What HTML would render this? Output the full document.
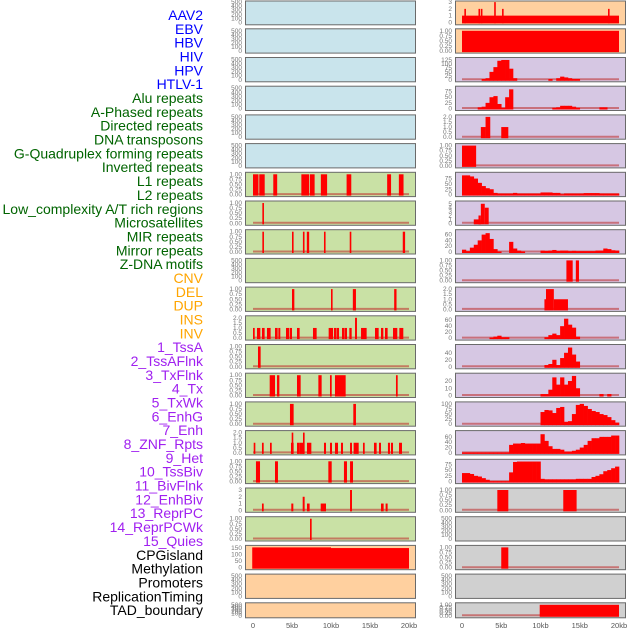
<!DOCTYPE html>
<html><head><meta charset="utf-8"><style>
html,body{margin:0;padding:0;background:#fff;}
svg{display:block;font-family:"Liberation Sans",sans-serif;}
</style></head><body>
<svg id="chart" width="630" height="630" viewBox="0 0 630 630" xmlns="http://www.w3.org/2000/svg"></svg>
<script>
const labels = ["AAV2","EBV","HBV","HIV","HPV","HTLV-1","Alu repeats","A-Phased repeats","Directed repeats","DNA transposons","G-Quadruplex forming repeats","Inverted repeats","L1 repeats","L2 repeats","Low_complexity A/T rich regions","Microsatellites","MIR repeats","Mirror repeats","Z-DNA motifs","CNV","DEL","DUP","INS","INV","1_TssA","2_TssAFlnk","3_TxFlnk","4_Tx","5_TxWk","6_EnhG","7_Enh","8_ZNF_Rpts","9_Het","10_TssBiv","11_BivFlnk","12_EnhBiv","13_ReprPC","14_ReprPCWk","15_Quies","CPGisland","Methylation","Promoters","ReplicationTiming","TAD_boundary"];
const labelGroupSizes = [6,13,5,15,5];
const xTickValues = [0,5,10,15,20];
const xTickLabels = ["0","5kb","10kb","15kb","20kb"];

// Left column interval data [startKb, endKb, value]
const segsL6 = [[0,0.7,1],[0.8,1.5,1],[2.6,3.1,1],[6.2,7.2,1],[7.3,7.9,1],[8.7,9.5,1],[12,12.6,1],[17.2,17.7,1],[18.7,19.3,1]];
const segsL7 = [[1.2,1.35,1]];
const segsL8 = [[1.2,1.4,1],[5.0,5.2,1],[6.4,6.6,1],[6.9,7.2,1],[9.1,9.3,1],[12.4,12.6,1],[19.2,19.5,1]];
const segsL10 = [[5.0,5.3,1],[10.0,10.2,1],[12.8,13.2,1],[18.1,18.4,1]];
const segsL11 = [[0,0.22,1],[0.51,0.94,1],[1.15,1.49,1],[1.79,2.26,1],[2.82,3.16,1],[3.25,3.5,1],[4.23,4.66,1],[4.74,5.0,1],[5.64,5.98,1],[7.69,8.16,1],[9.7,10.26,1],[10.38,10.72,1],[10.77,11.03,1],[11.41,11.75,1],[11.79,12.05,1],[12.35,12.65,1],[13.08,13.33,2],[13.85,14.57,1],[15.64,16.11,1],[16.41,16.71,1],[16.92,17.26,1],[17.95,18.5,1],[18.76,19.27,1]];
const segsL12 = [[0.64,0.98,1]];
const segsL13 = [[2.14,2.82,1],[3.08,3.38,1],[5.64,6.11,1],[8.38,8.8,1],[9.87,10.09,1],[10.51,11.88,1],[18.33,18.55,1]];
const segsL14 = [[4.74,5.21,1],[12.86,13.2,1]];
const segsL15 = [[0.09,0.3,1],[1.15,1.37,1],[2.18,2.4,1],[4.87,5.21,1],[4.96,5.13,2],[5.64,5.94,1],[5.94,6.54,1],[6.41,6.62,2],[6.92,7.48,1],[9.1,9.36,1],[9.87,10.13,1],[10.51,10.9,1],[11.28,11.54,1],[12.44,12.69,1],[12.9,13.55,1],[14.1,14.32,1],[15.51,15.85,1],[16.15,16.41,1],[17.3,17.56,1],[17.69,17.95,1],[18.72,19.1,1]];
const segsL16 = [[0.38,0.9,1],[2.82,3.2,1],[9.66,10.09,1],[11.66,12.05,1],[12.44,12.82,1]];
const segsL17 = [[1.15,1.37,1],[4.91,5.17,1],[6.37,6.62,2],[6.92,7.26,1],[8.68,9.36,1],[12.44,12.69,3],[16.41,16.75,1],[17.0,17.26,1]];
const segsL18 = [[7.31,7.52,1]];
const segsL19 = [[-0.1,10,155],[10,20,150]];

// Right column
const segsR0 = [[0,20,1],[0.3,0.5,2],[2.1,2.2,2],[2.4,2.6,2],[4.1,4.2,3],[5.1,5.3,2],[18.6,18.8,2]];
const segsR1 = [[0,20,1]];
const binsR2 = [0,0,0,0,0,5,10,50,80,120,125,125,70,10,0,0,0,0,0,0,0,0,5,0,10,20,15,10,5,5,0,0,0,0,0,0,0,0,0,0];
const binsR3 = [0,0,0,0,5,8,25,50,55,20,3,50,85,0,0,0,0,0,0,0,0,0,0,3,5,12,12,12,8,3,0,0,0,0,0,5,5,0,0,0];
const segsR4 = [[2.4,3.0,1],[3.0,3.6,2],[5.0,5.9,1]];
const segsR5 = [[0,1.8,1]];
const binsR6 = [90,90,85,75,55,40,30,25,8,5,5,5,5,8,5,5,5,5,5,5,10,10,10,8,8,2,5,5,5,5,5,7,7,7,7,5,5,5,5,5];
const segsR7 = [[1.5,2.4,1],[2.1,2.4,2],[2.4,2.9,5],[2.9,3.4,4]];
const binsR8 = [8,3,15,25,40,60,65,45,10,2,0,0,35,12,5,2,0,0,0,0,5,4,5,7,4,5,5,3,4,3,3,3,3,3,5,5,12,10,6,5];
const segsR9 = [[13.3,14.1,1],[14.5,14.9,1]];
const segsR10 = [[10.5,10.7,1],[10.7,11.7,2],[11.7,13.5,1]];
const binsR11 = [0,0,0,0,0,0,0,2,5,8,3,3,0,0,0,0,0,0,0,0,0,3,10,15,10,40,65,45,35,5,0,0,0,0,0,0,0,0,0,0];
const binsR12 = [0,0,0,0,0,0,0,0,0,0,0,0,0,0,0,0,0,0,0,0,0,5,8,20,5,25,40,55,35,15,0,0,0,0,0,0,0,0,0,0];
const binsR13 = [0,0,0,0,0,0,0,0,0,0,0,0,0,0,0,0,0,0,0,0,2,2,8,25,15,25,15,20,27,10,0,0,0,0,0,2,0,2,0,0];
const binsR14 = [0,0,0,0,0,0,0,0,0,0,0,0,0,0,0,0,0,0,0,0,60,70,68,55,80,85,12,15,50,95,100,90,75,65,60,50,45,35,20,8];
const binsR15 = [2,2,2,2,2,2,2,2,2,2,2,2,30,35,35,37,35,35,35,35,70,45,25,15,15,12,5,5,8,12,20,30,45,55,55,60,60,60,65,65];
const binsR16 = [37,37,33,25,22,15,8,2,2,2,2,2,40,85,87,87,87,87,87,87,12,10,10,10,10,10,10,10,10,12,12,12,12,20,25,32,45,50,58,65];
const segsR17 = [[4.5,5.9,1],[12.9,14.6,1]];
const segsR19 = [[5.0,5.9,1]];
const segsR21 = [[9.9,20,1]];

const T500=[0,100,200,300,400,500], T1=[0,0.25,0.5,0.75,1], T1L=["0.00","0.25","0.50","0.75","1.00"];
const T2=[0,0.5,1,1.5,2], T2L=["0.0","0.5","1.0","1.5","2.0"];
const C={blue:"#c9e4ec",green:"#c9e1a5",orange:"#ffd09f",purple:"#d6c7e3",gray:"#d0d0d0"};
function P(bg,ymax,ticks,tl,data,kind){return {bg,ymax,ticks,tl:tl||ticks.map(String),data,kind};}
const left=[
P(C.blue,500,T500),P(C.blue,500,T500),P(C.blue,500,T500),P(C.blue,500,T500),P(C.blue,500,T500),P(C.blue,500,T500),
P(C.green,1,T1,T1L,segsL6,"s"),P(C.green,1,T1,T1L,segsL7,"s"),P(C.green,1,T1,T1L,segsL8,"s"),P(C.green,500,T500),
P(C.green,1,T1,T1L,segsL10,"s"),P(C.green,2,T2,T2L,segsL11,"s"),P(C.green,1,T1,T1L,segsL12,"s"),P(C.green,1,T1,T1L,segsL13,"s"),
P(C.green,1,T1,T1L,segsL14,"s"),P(C.green,2,T2,T2L,segsL15,"s"),P(C.green,1,T1,T1L,segsL16,"s"),P(C.green,3,[0,1,2,3],null,segsL17,"s"),
P(C.green,1,T1,T1L,segsL18,"s"),P(C.orange,155,[0,50,100,150],null,segsL19,"s"),P(C.orange,500,T500),P(C.orange,500,T500)];
const right=[
P(C.orange,3,[0,1,2,3],null,segsR0,"s"),P(C.orange,1,T1,T1L,segsR1,"s"),P(C.purple,128,[0,25,50,75,100,125],null,binsR2,"b"),
P(C.purple,90,[0,25,50,75],null,binsR3,"b"),P(C.purple,2,T2,T2L,segsR4,"s"),P(C.purple,1,T1,T1L,segsR5,"s"),
P(C.purple,95,[0,25,50,75],null,binsR6,"b"),P(C.purple,5.2,[0,1,2,3,4,5],null,segsR7,"s"),P(C.purple,70,[0,20,40,60],null,binsR8,"b"),
P(C.purple,1,T1,T1L,segsR9,"s"),P(C.purple,2,T2,T2L,segsR10,"s"),P(C.purple,68,[0,20,40,60],null,binsR11,"b"),
P(C.purple,58,[0,20,40],null,binsR12,"b"),P(C.purple,28,[0,10,20],null,binsR13,"b"),P(C.purple,100,[0,25,50,75,100],null,binsR14,"b"),
P(C.purple,76,[0,20,40,60],null,binsR15,"b"),P(C.purple,88,[0,25,50,75],null,binsR16,"b"),P(C.gray,1,T1,T1L,segsR17,"s"),
P(C.gray,500,T500),P(C.gray,1,T1,T1L,segsR19,"s"),P(C.gray,500,T500),P(C.gray,1,T1,T1L,segsR21,"s")];

const svg=document.getElementById('chart');
const NS="http://www.w3.org/2000/svg";
function mk(tag,attrs,parent){const e=document.createElementNS(NS,tag);for(const k in attrs)e.setAttribute(k,attrs[k]);(parent||svg).appendChild(e);return e;}

const grpColors=["#0000ff","#006400","#ffa500","#a020f0","#000000"];
let gi=0,cnt=0;
labels.forEach((t,i)=>{
  if(cnt>=labelGroupSizes[gi]){gi++;cnt=0;}cnt++;
  const e=mk('text',{x:203,y:20+13.84*i,'text-anchor':'end','font-size':'14',fill:grpColors[gi]});
  e.textContent=t;
  
  
});

const cols=[{x0:245,x1:416,z:253,s:7.8,panels:left,name:'left'},{x0:455,x1:626,z:462,s:7.85,panels:right,name:'right'}];
cols.forEach(col=>{
  const xs=kb=>col.z+kb*col.s;
  col.panels.forEach((p,k)=>{
    const top=28.7*k-0.4, h=(k===21)?16:25.3;
    const g=mk('g',{});
    
    
    const r=mk('rect',{x:col.x0+0.5,y:Math.max(top,0.5)+0.5,width:col.x1-col.x0-1,height:h-1-(top<0?0.5:0),fill:p.bg,stroke:'#6a6a6a','stroke-width':1},g);
    
    
    const y0=top+h-2.5, y1=top+2.5;
    const ys=v=>y0-(v/p.ymax)*(y0-y1);
    p.ticks.forEach((tv,ti)=>{
      const t=mk('text',{x:col.x0-3,y:ys(tv)+2,'text-anchor':'end','font-size':'6.5',fill:'#777'},g);
      t.textContent=p.tl[ti];
      
      
    });
    if(!p.data)return;
    if(p.bg!==C.orange){
      const b=mk('line',{x1:xs(0),x2:xs(20),y1:y0-0.5,y2:y0-0.5,stroke:'rgba(190,40,40,0.55)','stroke-width':2},g);
      
      
    }
    if(p.kind==='b'){
      p.data.forEach((v,i)=>{
        if(v<=0)return;
        const bar=mk('rect',{x:xs(i*0.5),y:ys(v),width:0.5*col.s+0.3,height:y0+1-ys(v),fill:'#ff0000'},g);
        
        
      });
    } else {
      p.data.forEach(s=>{
        const xa=xs(s[0]),w=Math.max(1.6,xs(s[1])-xa);
        const bar=mk('rect',{x:xa,y:ys(s[2]),width:w,height:y0+1-ys(s[2]),fill:'#ff0000'},g);
        
        
      });
    }
  });
  xTickValues.forEach((v,i)=>{
    const t=mk('text',{x:xs(v),y:628,'text-anchor':'middle','font-size':'7.5',fill:'#555'});
    t.textContent=xTickLabels[i];
    
    
  });
});
</script>
</body></html>
